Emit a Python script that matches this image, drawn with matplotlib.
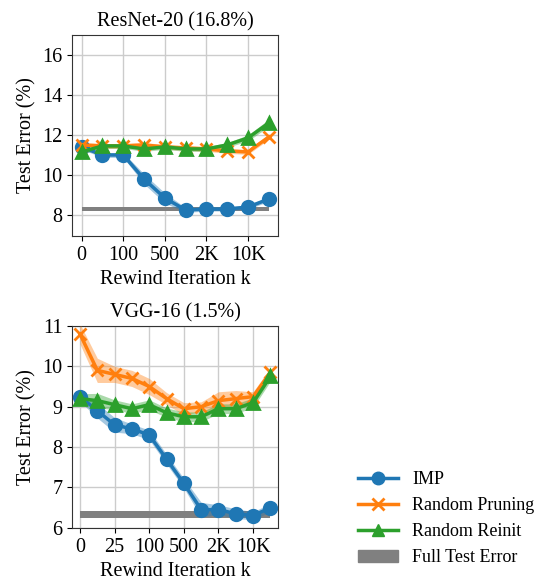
import numpy as np
import matplotlib
matplotlib.use('Agg')
import matplotlib.pyplot as plt
from matplotlib.patches import Patch

plt.rcParams['font.family'] = ['Liberation Serif', 'DejaVu Serif']
plt.rcParams['font.size'] = 14.5

# ResNet-20 data
resnet_ticks = ['0', '100', '500', '2K', '10K']
resnet_imp = [11.4, 11.0, 11.0, 9.8, 8.85, 8.25, 8.3, 8.3, 8.4, 8.8]
resnet_imp_std = [0.12, 0.12, 0.12, 0.25, 0.25, 0.12, 0.1, 0.1, 0.1, 0.12]
resnet_prune = [11.5, 11.45, 11.45, 11.5, 11.4, 11.35, 11.3, 11.2, 11.15, 11.9]
resnet_prune_std = [0.12, 0.12, 0.12, 0.12, 0.12, 0.12, 0.12, 0.12, 0.12, 0.12]
resnet_reinit = [11.15, 11.45, 11.45, 11.3, 11.4, 11.3, 11.3, 11.5, 11.85, 12.6]
resnet_reinit_std = [0.12, 0.12, 0.12, 0.12, 0.12, 0.12, 0.12, 0.12, 0.15, 0.18]
resnet_full = 8.3
resnet_full_std = 0.1

# VGG-16 data
vgg_ticks = ['0', '25', '100', '500', '2K', '10K']
vgg_imp = [9.25, 8.9, 8.55, 8.45, 8.3, 7.7, 7.1, 6.45, 6.45, 6.35, 6.3, 6.5]
vgg_imp_std = [0.12, 0.18, 0.18, 0.12, 0.12, 0.12, 0.12, 0.18, 0.12, 0.12, 0.1, 0.1]
vgg_prune = [10.8, 9.9, 9.8, 9.7, 9.5, 9.2, 8.95, 9.0, 9.15, 9.2, 9.25, 9.85]
vgg_prune_std = [0.25, 0.3, 0.2, 0.2, 0.2, 0.15, 0.15, 0.12, 0.22, 0.2, 0.12, 0.12]
vgg_reinit = [9.2, 9.15, 9.05, 8.95, 9.05, 8.85, 8.75, 8.75, 8.95, 8.95, 9.1, 9.75]
vgg_reinit_std = [0.12, 0.18, 0.12, 0.12, 0.12, 0.12, 0.12, 0.12, 0.12, 0.12, 0.12, 0.12]
vgg_full = 6.33
vgg_full_std = 0.08

colors = ['#1f77b4', '#ff7f0e', '#2ca02c']
markers = ['o', 'x', '^']


def draw(ax, series, stds, full, full_std, ticks, title, ylim, yticks):
    x = np.arange(len(series[0]))
    ax.fill_between([x[0], x[-1]], full - full_std, full + full_std,
                    color='gray', lw=0, zorder=2)
    for s, sd, c, m in zip(series, stds, colors, markers):
        s = np.array(s)
        sd = np.array(sd)
        ax.fill_between(x, s - sd, s + sd, color=c, alpha=0.4, lw=0, zorder=3)
        ax.plot(x, s, color=c, marker=m, lw=2.5, ms=9, mew=2, zorder=4)
    ax.set_xticks(x[::2])
    ax.set_xticklabels(ticks)
    ax.set_xlim(x[0] - 0.45, x[-1] + 0.45)
    ax.set_ylim(*ylim)
    ax.set_yticks(yticks)
    ax.grid(True, color='#cccccc', lw=1)
    ax.set_axisbelow(True)
    for sp in ax.spines.values():
        sp.set_color('#333333')
    ax.set_title(title, fontsize=14.5)
    ax.set_xlabel('Rewind Iteration k')
    ax.set_ylabel('Test Error (%)')


fig = plt.figure(figsize=(5.35, 5.8), dpi=100)
ax1 = fig.add_axes([0.135, 0.593, 0.385, 0.347])
ax2 = fig.add_axes([0.135, 0.09, 0.385, 0.348])

draw(ax1, [resnet_imp, resnet_prune, resnet_reinit],
     [resnet_imp_std, resnet_prune_std, resnet_reinit_std],
     resnet_full, resnet_full_std, resnet_ticks, 'ResNet-20 (16.8%)',
     (6.95, 17), [8, 10, 12, 14, 16])
draw(ax2, [vgg_imp, vgg_prune, vgg_reinit],
     [vgg_imp_std, vgg_prune_std, vgg_reinit_std],
     vgg_full, vgg_full_std, vgg_ticks, 'VGG-16 (1.5%)',
     (6, 11), [6, 7, 8, 9, 10, 11])

handles = [
    plt.Line2D([], [], color=colors[0], marker='o', lw=2.5, ms=9),
    plt.Line2D([], [], color=colors[1], marker='x', lw=2.5, ms=9, mew=2),
    plt.Line2D([], [], color=colors[2], marker='^', lw=2.5, ms=9),
    Patch(color='gray'),
]
labels = ['IMP', 'Random Pruning', 'Random Reinit', 'Full Test Error']
fig.legend(handles, labels, loc='upper left', bbox_to_anchor=(0.652, 0.203),
           frameon=False, fontsize=13, handlelength=2.2, labelspacing=0.5,
           borderpad=0)

fig.savefig('out.png', dpi=100)
